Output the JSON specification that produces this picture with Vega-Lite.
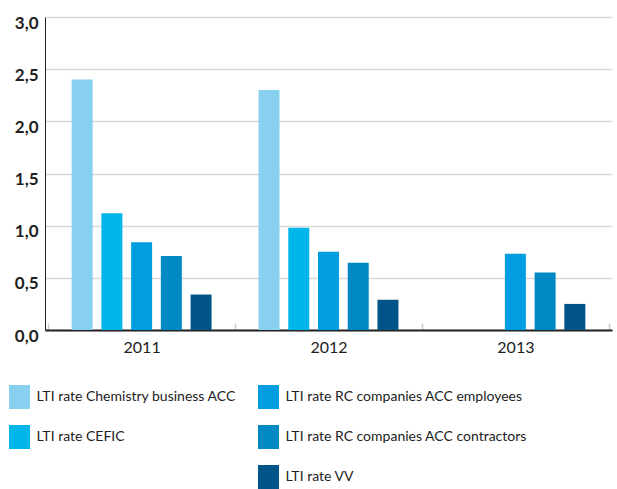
{
  "$schema": "https://vega.github.io/schema/vega-lite/v6.json",
  "width": 567,
  "height": 313,
  "autosize": {"type": "none"},
  "padding": {"left": 45, "top": 17, "right": 5, "bottom": 159},
  "config": {
    "view": {"stroke": null},
    "locale": {"number": {"decimal": ",", "thousands": ".", "grouping": [3], "currency": ["", " €"]}}
  },
  "data": {
    "values": [
      {"year": "2011", "series": "LTI rate Chemistry business ACC", "value": 2.40},
      {"year": "2011", "series": "LTI rate CEFIC", "value": 1.12},
      {"year": "2011", "series": "LTI rate RC companies ACC employees", "value": 0.84},
      {"year": "2011", "series": "LTI rate RC companies ACC contractors", "value": 0.71},
      {"year": "2011", "series": "LTI rate VV", "value": 0.34},
      {"year": "2012", "series": "LTI rate Chemistry business ACC", "value": 2.30},
      {"year": "2012", "series": "LTI rate CEFIC", "value": 0.98},
      {"year": "2012", "series": "LTI rate RC companies ACC employees", "value": 0.75},
      {"year": "2012", "series": "LTI rate RC companies ACC contractors", "value": 0.645},
      {"year": "2012", "series": "LTI rate VV", "value": 0.29},
      {"year": "2013", "series": "LTI rate RC companies ACC employees", "value": 0.73},
      {"year": "2013", "series": "LTI rate RC companies ACC contractors", "value": 0.55},
      {"year": "2013", "series": "LTI rate VV", "value": 0.25}
    ]
  },
  "mark": {"type": "bar"},
  "encoding": {
    "x": {
      "field": "year",
      "type": "nominal",
      "scale": {"paddingInner": 0, "paddingOuter": 0.017},
      "axis": {
        "title": null,
        "labelAngle": 0,
        "labelFont": "Lato",
        "labelFontSize": 16,
        "labelColor": "#222222",
        "labelPadding": 16,
        "domainColor": "#222222",
        "domainWidth": 2,
        "tickBand": "extent",
        "tickSize": -7,
        "tickColor": "#cccccc",
        "tickWidth": 1.5
      }
    },
    "xOffset": {
      "field": "series",
      "type": "nominal",
      "scale": {
        "domain": ["LTI rate Chemistry business ACC", "LTI rate CEFIC", "LTI rate RC companies ACC employees", "LTI rate RC companies ACC contractors", "LTI rate VV"],
        "paddingInner": 0.294,
        "paddingOuter": 0.79
      }
    },
    "y": {
      "field": "value",
      "type": "quantitative",
      "scale": {"domain": [0, 3]},
      "axis": {
        "title": null,
        "values": [0, 0.5, 1, 1.5, 2, 2.5, 3],
        "format": ".1f",
        "labelFont": "Lato",
        "labelFontSize": 17,
        "labelFontWeight": "bold",
        "labelColor": "#222222",
        "labelPadding": 7,
        "labelOffset": 6,
        "ticks": false,
        "domainColor": "#222222",
        "domainWidth": 1,
        "gridColor": "#d9d9d9",
        "gridWidth": 1.5
      }
    },
    "color": {
      "field": "series",
      "type": "nominal",
      "scale": {
        "domain": ["LTI rate Chemistry business ACC", "LTI rate RC companies ACC employees", "LTI rate CEFIC", "LTI rate RC companies ACC contractors", " ", "LTI rate VV"],
        "range": ["#88d0f0", "#009ee0", "#00b5e7", "#0089c2", "rgba(255,255,255,0)", "#005487"]
      },
      "legend": {
        "title": null,
        "orient": "none",
        "legendX": -37.5,
        "legendY": 368,
        "direction": "horizontal",
        "columns": 2,
        "symbolType": "M-0.875,-1H0.875V1H-0.875Z",
        "symbolSize": 576,
        "symbolStrokeWidth": 0,
        "symbolOpacity": 1,
        "labelFont": "Lato",
        "labelFontSize": 14,
        "labelColor": "#222222",
        "labelOffset": 5,
        "labelLimit": 400,
        "rowPadding": 16,
        "columnPadding": 20
      }
    }
  }
}
